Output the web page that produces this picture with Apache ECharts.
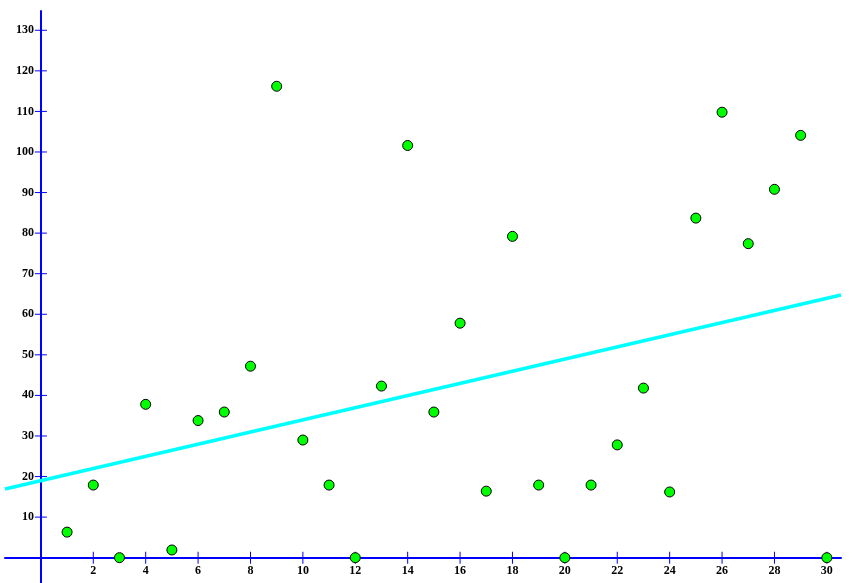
<!DOCTYPE html>
<html>
<head>
<meta charset="utf-8">
<script src="https://cdn.jsdelivr.net/npm/echarts@6/dist/echarts.min.js"></script>
<style>html,body{margin:0;padding:0;background:#fff}#c{width:852px;height:583px}</style>
</head>
<body>
<div id="c"></div>
<script>
const xValues = [1,2,3,4,5,6,7,8,9,10,11,12,13,14,15,16,17,18,19,20,21,22,23,24,25,26,27,28,29,30];
const yValues = [6.3,17.9,0,37.8,1.9,33.8,35.9,47.2,116.2,29.0,17.9,0,42.3,101.6,35.9,57.8,16.4,79.2,17.9,0,17.9,27.8,41.8,16.2,83.7,109.8,77.4,90.8,104.1,0];
const trendX = [-1.37, 30.54];
const trendY = [16.93, 64.75];
const xTicks = [2,4,6,8,10,12,14,16,18,20,22,24,26,28,30];
const yTicks = [10,20,30,40,50,60,70,80,90,100,110,120,130];
const xRange = [-1.37, 30.54];
const yRange = [-6.24, 134.75];

const labelFont = {color:'#000', fontFamily:'Liberation Serif', fontWeight:'bold', fontSize:12};
const axisLineStyle = {color:'#0000ff', width:2};

const chart = echarts.init(document.getElementById('c'), null, {renderer:'canvas'});
chart.setOption({
  animation:false,
  backgroundColor:'#fff',
  grid:{left:5, right:11, top:11, bottom:0, containLabel:false, outerBoundsMode:'none'},
  xAxis:{
    type:'value', min:xRange[0], max:xRange[1], position:'bottom', offset:-25.32,
    axisLine:{show:true, onZero:false, lineStyle:axisLineStyle},
    axisTick:{show:false},
    axisLabel:Object.assign({show:true, margin:7, customValues:xTicks}, labelFont),
    splitLine:{show:false}
  },
  yAxis:{
    type:'value', min:yRange[0], max:yRange[1], position:'left', offset:-35.89,
    axisLine:{show:true, onZero:false, lineStyle:axisLineStyle},
    axisTick:{show:false},
    axisLabel:Object.assign({show:true, margin:7, customValues:yTicks}, labelFont),
    splitLine:{show:false}
  },
  series:[
    {
      type:'scatter', silent:true,
      data: xTicks.map(t=>[t,0]),
      symbol:'rect', symbolSize:[1,12],
      itemStyle:{color:'#0000ff', opacity:1}, z:1
    },
    {
      type:'scatter', silent:true,
      data: yTicks.map(t=>[0,t]),
      symbol:'rect', symbolSize:[12,1],
      itemStyle:{color:'#0000ff', opacity:1}, z:1
    },
    {
      type:'line', clip:false,
      data: trendX.map((x,i)=>[x, trendY[i]]),
      symbol:'none', lineStyle:{color:'#00ffff', width:3.5}, z:2
    },
    {
      type:'scatter', clip:false,
      data: xValues.map((x,i)=>[x, yValues[i]]),
      symbol:'circle', symbolSize:10,
      itemStyle:{color:'#00ff00', borderColor:'#000', borderWidth:1, opacity:1}, z:3
    }
  ]
});
</script>
</body>
</html>
